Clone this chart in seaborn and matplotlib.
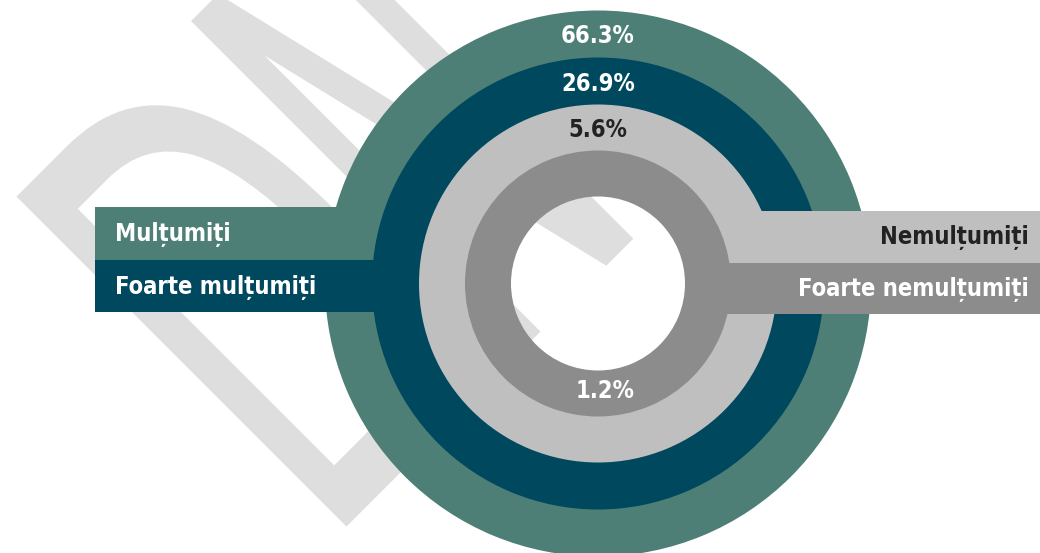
import numpy as np
import pandas as pd
import matplotlib
matplotlib.use("Agg")
import matplotlib.pyplot as plt
import seaborn as sns
from matplotlib.textpath import TextPath
from matplotlib.patches import PathPatch
from matplotlib.font_manager import FontProperties
from matplotlib.transforms import Affine2D

# data: share of respondents per category (outer ring -> inner ring)
labels = ["Mulțumiți", "Foarte mulțumiți", "Nemulțumiți", "Foarte nemulțumiți"]
shares = [66.3, 26.9, 5.6, 1.2]
pct_text = ["66.3%", "26.9%", "5.6%", "1.2%"]

df = pd.DataFrame({"label": labels, "share": shares, "text": pct_text})

sns.set_theme(style="white")
plt.rcParams["font.family"] = ["DejaVu Sans"]

colors = sns.color_palette(["#4d7f77", "#00485e", "#bfbfbf", "#8c8c8c"])
text_colors = ["white", "white", "#222222", "white"]

fig = plt.figure(figsize=(10.4, 5.53), dpi=100)
ax = fig.add_axes([0, 0, 1, 1])

cx, cy = 598, 283.5
outer = [273, 226, 179, 133]
ring_w = [48.5, 48.5, 48.5, 46]   # small overlap hides seams between rings

# watermark: squeezed letters, tilted 45 degrees
wm_font = FontProperties(family="DejaVu Sans", weight="normal")
for ch, sx, (x0, y0) in [("D", 0.55, (322, 551)), ("N", 0.45, (501, 371))]:
    tp = TextPath((0, 0), ch, size=1, prop=wm_font)
    tr = Affine2D().scale(sx * 640, 640).rotate_deg(45).scale(1, -1).translate(x0, y0)
    ax.add_patch(PathPatch(tr.transform_path(tp), facecolor="#dedede",
                           edgecolor="none", zorder=0))

# rings, one pie per category, layered outer -> inner
for i, row in df.iterrows():
    ax.pie([row["share"]], radius=outer[i], center=(cx, cy), colors=[colors[i]],
           startangle=90, frame=True,
           wedgeprops=dict(width=ring_w[i], linewidth=0, zorder=1 + i))

# label bands (left side: outer two rings, right side: inner two rings)
bands = [
    dict(y=233.5, h=53, left=95, right=cx - 240, ha="left", tx=115),
    dict(y=286, h=52, left=95, right=cx - 200, ha="left", tx=115),
    dict(y=237, h=52, left=cx + 140, right=1040, ha="right", tx=1029),
    dict(y=288.5, h=51, left=cx + 100, right=1040, ha="right", tx=1029),
]
for i, b in enumerate(bands):
    ax.barh(b["y"], b["right"] - b["left"], left=b["left"], height=b["h"],
            color=colors[i], linewidth=0, zorder=1.5 + i)
    ax.text(b["tx"], b["y"] + 1, df["label"][i], ha=b["ha"], va="center",
            fontsize=17, fontweight="bold", fontstretch="condensed",
            color=text_colors[i], zorder=10)

# percentage labels
pct_pos = [(598, 36), (598, 84), (598, 130), (605, 391)]
for i, (x, y) in enumerate(pct_pos):
    ax.text(x, y, df["text"][i], ha="center", va="center", fontsize=17,
            fontweight="bold", fontstretch="condensed",
            color=text_colors[i], zorder=10)

ax.set_xlim(0, 1040)
ax.set_ylim(553, 0)
ax.set_aspect("equal")
ax.axis("off")

fig.savefig("out.png", dpi=100, facecolor="white")
